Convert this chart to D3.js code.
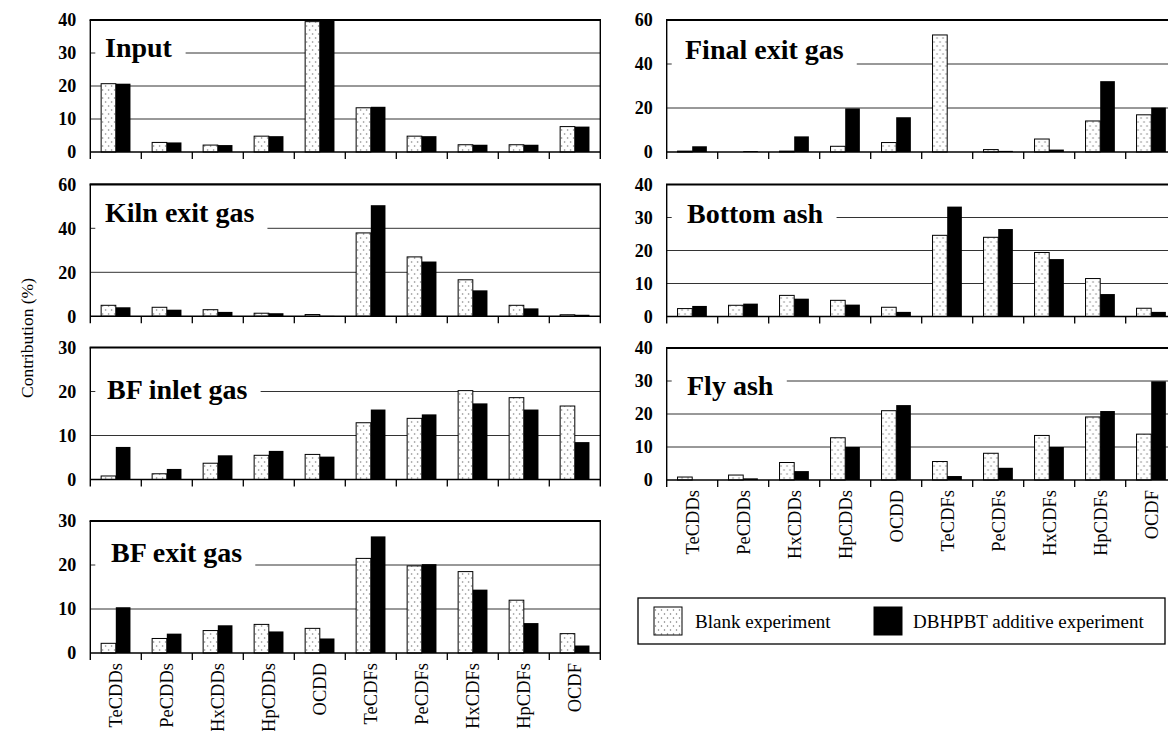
<!DOCTYPE html>
<html>
<head>
<meta charset="utf-8">
<script src="https://cdn.jsdelivr.net/npm/d3@7/dist/d3.min.js"></script>
<style>
  html, body { margin: 0; padding: 0; background: #fff; }
  svg { display: block; }
</style>
</head>
<body>
<script>
// ---------- DATA ----------
const categories = ["TeCDDs","PeCDDs","HxCDDs","HpCDDs","OCDD","TeCDFs","PeCDFs","HxCDFs","HpCDFs","OCDF"];
const seriesNames = ["Blank experiment","DBHPBT additive experiment"];

const inputBlank    = [20.7, 2.9, 2.1, 4.8, 39.5, 13.4, 4.8, 2.2, 2.2, 7.7];
const inputAdditive = [20.7, 2.9, 2.1, 4.8, 39.7, 13.7, 4.8, 2.2, 2.2, 7.7];
const kilnBlank     = [5.0, 4.1, 3.0, 1.4, 0.8, 37.9, 27.0, 16.6, 5.0, 0.7];
const kilnAdditive  = [4.1, 3.0, 2.0, 1.4, 0.2, 50.5, 24.9, 11.8, 3.6, 0.7];
const bfInBlank     = [0.8, 1.3, 3.7, 5.5, 5.7, 12.9, 13.9, 20.2, 18.6, 16.7];
const bfInAdditive  = [7.4, 2.4, 5.5, 6.5, 5.2, 15.9, 14.8, 17.3, 15.9, 8.5];
const bfOutBlank    = [2.2, 3.3, 5.1, 6.5, 5.6, 21.5, 19.8, 18.5, 12.0, 4.4];
const bfOutAdditive = [10.4, 4.4, 6.3, 4.9, 3.3, 26.5, 20.2, 14.4, 6.8, 1.7];
const finalBlank    = [0.4, 0.0, 0.4, 2.6, 4.3, 53.2, 1.1, 5.9, 14.1, 16.9];
const finalAdditive = [2.6, 0.4, 7.1, 19.8, 15.8, 0.0, 0.5, 1.1, 32.2, 20.2];
const bottomBlank   = [2.4, 3.4, 6.4, 4.9, 2.8, 24.6, 24.0, 19.4, 11.5, 2.5];
const bottomAdditive= [3.2, 3.9, 5.4, 3.6, 1.4, 33.3, 26.5, 17.4, 6.8, 1.4];
const flyBlank      = [0.9, 1.5, 5.3, 12.8, 21.0, 5.6, 8.1, 13.5, 19.1, 13.9];
const flyAdditive   = [0.0, 0.5, 2.7, 10.0, 22.7, 1.2, 3.7, 10.0, 20.9, 29.9];

const ticks40 = [0, 10, 20, 30, 40];
const ticks60 = [0, 20, 40, 60];
const ticks30 = [0, 10, 20, 30];

const yAxisTitle = "Contribution (%)";

// ---------- LAYOUT ----------
const PW = 510, PH = 132;
const panels = [
  { title: "Input",          blank: inputBlank,  add: inputAdditive,  ticks: ticks40, left: 90.3,  top: 20,    titleX: 105, titleBase: 56.5, xLabels: false },
  { title: "Kiln exit gas",  blank: kilnBlank,   add: kilnAdditive,   ticks: ticks60, left: 90.3,  top: 184.3, titleX: 105, titleBase: 221.5, xLabels: false },
  { title: "BF inlet gas",   blank: bfInBlank,   add: bfInAdditive,   ticks: ticks30, left: 90.3,  top: 347.5, titleX: 107, titleBase: 398.5, xLabels: false },
  { title: "BF exit gas",    blank: bfOutBlank,  add: bfOutAdditive,  ticks: ticks30, left: 90.3,  top: 521,   titleX: 111, titleBase: 561.5, xLabels: true },
  { title: "Final exit gas", blank: finalBlank,  add: finalAdditive,  ticks: ticks60, left: 666.7, top: 20,    titleX: 685, titleBase: 58.5, xLabels: false },
  { title: "Bottom ash",     blank: bottomBlank, add: bottomAdditive, ticks: ticks40, left: 666.7, top: 184.5, titleX: 687, titleBase: 222.5, xLabels: false },
  { title: "Fly ash",        blank: flyBlank,    add: flyAdditive,    ticks: ticks40, left: 666.7, top: 348,   titleX: 687, titleBase: 395, xLabels: true }
];

const serif = "'Liberation Serif','Times New Roman',Times,serif";

const svg = d3.select("body").append("svg")
  .attr("width", 1168).attr("height", 731)
  .style("font-family", serif);

// dotted pattern
const defs = svg.append("defs");
const pat = defs.append("pattern").attr("id", "dots")
  .attr("patternUnits", "userSpaceOnUse")
  .attr("width", 6).attr("height", 8);
pat.append("rect").attr("width", 6).attr("height", 8).attr("fill", "#fff");
pat.append("circle").attr("cx", 1.5).attr("cy", 2).attr("r", 0.75).attr("fill", "#777");
pat.append("circle").attr("cx", 4.5).attr("cy", 6).attr("r", 0.75).attr("fill", "#777");

function drawPanel(p) {
  const g = svg.append("g");
  const xBand = d3.scaleBand().domain(categories).range([p.left, p.left + PW])
    .paddingInner(0.425).paddingOuter(0.2125);
  const xSub = d3.scaleBand().domain(["blank", "add"]).range([0, xBand.bandwidth()]);
  const xCat = d3.scaleBand().domain(categories).range([p.left, p.left + PW]);
  const yMax = d3.max(p.ticks);
  const y = d3.scaleLinear().domain([0, yMax]).range([p.top + PH, p.top]);
  const bottom = y(0), right = p.left + PW;

  // gridlines
  g.selectAll("line.grid").data(p.ticks.filter(t => t > 0 && t < yMax)).join("line")
    .attr("x1", p.left).attr("x2", right)
    .attr("y1", d => y(d)).attr("y2", d => y(d))
    .attr("stroke", "#333").attr("stroke-width", 1);

  // title with white background box
  const t = g.append("text")
    .attr("x", p.titleX).attr("y", p.titleBase)
    .attr("font-size", 28).attr("font-weight", "bold").attr("fill", "#000")
    .text(p.title);
  const bb = t.node().getBBox();
  g.insert("rect", "text")
    .attr("x", p.left + 5).attr("y", p.titleBase - 24)
    .attr("width", bb.x + bb.width + 13 - (p.left + 5)).attr("height", 33)
    .attr("fill", "#fff");

  // bars
  const rows = categories.map((c, i) => ({ c, blank: p.blank[i], add: p.add[i] }));
  const grp = g.selectAll("g.cat").data(rows).join("g")
    .attr("transform", d => `translate(${xBand(d.c)},0)`);
  grp.append("rect")
    .attr("x", xSub("blank")).attr("width", xSub.bandwidth())
    .attr("y", d => y(d.blank)).attr("height", d => bottom - y(d.blank))
    .attr("fill", "url(#dots)")
    .attr("stroke", d => d.blank > 0 ? "#000" : "none").attr("stroke-width", 1);
  grp.append("rect")
    .attr("x", xSub("add")).attr("width", xSub.bandwidth())
    .attr("y", d => y(d.add)).attr("height", d => bottom - y(d.add))
    .attr("fill", "#000");

  // frame
  g.append("line").attr("x1", p.left - 0.7).attr("x2", right + 0.7)
    .attr("y1", y(yMax)).attr("y2", y(yMax)).attr("stroke", "#000").attr("stroke-width", 2.2);
  g.append("line").attr("x1", p.left).attr("x2", right)
    .attr("y1", bottom).attr("y2", bottom).attr("stroke", "#000").attr("stroke-width", 1.5);
  [p.left, right].forEach(xx => {
    g.append("line").attr("x1", xx).attr("x2", xx)
      .attr("y1", y(yMax)).attr("y2", bottom + 7)
      .attr("stroke", "#000").attr("stroke-width", 1.4);
  });
  // category boundary ticks
  g.selectAll("line.xt").data(categories.slice(1)).join("line")
    .attr("x1", d => xCat(d)).attr("x2", d => xCat(d))
    .attr("y1", bottom).attr("y2", bottom + 7)
    .attr("stroke", "#000").attr("stroke-width", 1.3);

  // y tick labels
  g.selectAll("text.yt").data(p.ticks).join("text")
    .attr("x", p.left - 14).attr("y", d => y(d))
    .attr("dy", "0.35em").attr("text-anchor", "end")
    .attr("font-size", 18).attr("font-weight", "bold")
    .text(d => d);

  // x labels
  if (p.xLabels) {
    g.selectAll("text.xl").data(categories).join("text")
      .attr("transform", d => `translate(${xCat(d) + xCat.bandwidth() / 2},${bottom + 10}) rotate(-90)`)
      .attr("dy", "0.35em").attr("text-anchor", "end")
      .attr("font-size", 18.5)
      .text(d => d);
  }
}

panels.forEach(drawPanel);

// y axis title
svg.append("text")
  .attr("transform", "translate(27,338) rotate(-90)")
  .attr("text-anchor", "middle").attr("dy", "0.35em")
  .attr("font-size", 17.5)
  .text(yAxisTitle);

// legend
const lg = svg.append("g");
lg.append("rect").attr("x", 638).attr("y", 598).attr("width", 527).attr("height", 46)
  .attr("fill", "#fff").attr("stroke", "#000").attr("stroke-width", 1.3);
const legendItems = [
  { name: seriesNames[0], fill: "url(#dots)", sx: 654, tx: 695 },
  { name: seriesNames[1], fill: "#000", sx: 874, tx: 913 }
];
legendItems.forEach(it => {
  lg.append("rect").attr("x", it.sx).attr("y", 607).attr("width", 28).attr("height", 28)
    .attr("fill", it.fill).attr("stroke", "#000").attr("stroke-width", 1);
  lg.append("text").attr("x", it.tx).attr("y", 621).attr("dy", "0.35em")
    .attr("font-size", 19).text(it.name);
});
</script>
</body>
</html>
